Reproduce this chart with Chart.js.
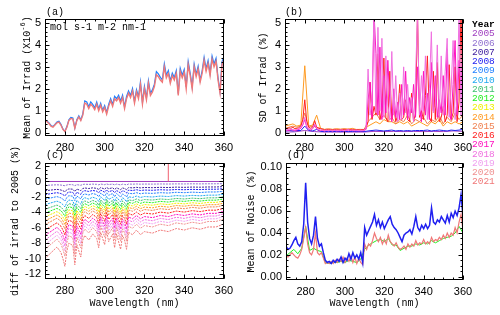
<!DOCTYPE html>
<html>
<head>
<meta charset="utf-8">
<script src="https://cdn.jsdelivr.net/npm/chart.js@4.4.1/dist/chart.umd.min.js"></script>
<style>
  html, body { margin: 0; padding: 0; background: #fff; }
  #wrap { position: relative; width: 500px; height: 315px; overflow: hidden; }
  #wrap canvas { position: absolute; }
  #legend { position: absolute; left: 472px; top: 20px; font: 9.5px "Liberation Mono", monospace; line-height: 9.25px; }
  #legend b { color: #000; }
</style>
</head>
<body>
<div id="wrap">
  <canvas id="cA" width="250" height="157" style="left:0;top:0"></canvas>
  <canvas id="cB" width="250" height="157" style="left:250px;top:0"></canvas>
  <canvas id="cC" width="250" height="170" style="left:0;top:145px"></canvas>
  <canvas id="cD" width="260" height="170" style="left:240px;top:145px"></canvas>
  <div id="legend"></div>
</div>
<script>
// years + colours (legend)
const years = ["2005","2006","2007","2008","2009","2010","2011","2012","2013","2014","2015","2016","2017","2018","2019","2020","2021"];
const yearColors = ["#a040c0","#9070d0","#4020a0","#2020f0","#2080ff","#20a8f0","#40c070","#20f020","#f0f000","#ff9a20","#f08050","#ff2020","#ff10c0","#f070e0","#f0a0f0","#f09090","#f07878"];

// wavelength grids (nm)
const wl1 = [270,271,272,273,274,275,276,277,278,279,
  280,281,282,283,284,285,286,287,288,289,
  290,291,292,293,294,295,296,297,298,299,
  300,301,302,303,304,305,306,307,308,309,
  310,311,312,313,314,315,316,317,318,319,
  320,321,322,323,324,325,326,327,328,329,
  330,331,332,333,334,335,336,337,338,339,
  340,341,342,343,344,345,346,347,348,349,
  350,351,352,353,354,355,356,357,358,359,360];
const wl2 = [270,272,274,276,278,280,282,284,286,288,290,292,294,296,298,300,302,304,306,308,
  310,312,314,316,318,320,322,324,326,328,330,332,334,336,338,340,342,344,346,348,350,352,354,356,358,360];
const wl5 = [270,275,280,285,290,295,300,305,310,315,320,325,330,335,340,345,350,355,360];
const wlC = [270,272,274,276,278,279,280,281,282,284,285,286,288,289,290,292,294,296,297,298,
  300,301,302,304,305,306,308,309,310,311,312,314,316,318,320,324,328,332,336,340,344,348,352,356,360];
const wlEnds = [270, 360];

// (a) mean irradiance, x1e-6 mol s-1 m-2 nm-1
const irrad2009 = [0.58,0.53,0.45,0.33,0.28,0.38,0.49,0.52,0.38,0.17,
  0.06,0.28,0.59,0.70,0.67,0.22,0.59,0.77,0.59,0.86,
  1.45,1.40,1.18,1.40,1.29,1.13,1.40,1.08,1.34,1.02,
  1.24,0.92,1.29,1.55,1.29,1.66,1.55,1.71,1.45,1.71,
  1.18,1.65,1.91,1.70,2.01,1.43,1.96,1.64,2.32,1.38,
  2.11,1.58,2.37,1.79,1.95,2.21,2.78,2.68,2.52,2.41,
  3.14,2.62,2.83,2.36,2.72,2.51,2.83,1.78,2.93,2.62,
  2.88,2.09,3.24,2.72,2.09,3.13,2.66,3.03,2.40,2.82,
  3.44,2.92,3.29,2.71,3.49,3.13,3.39,2.50,1.88,3.23,3.49];
const irrad2021 = [0.55,0.50,0.42,0.30,0.25,0.35,0.45,0.48,0.35,0.15,
  0.05,0.25,0.55,0.65,0.62,0.20,0.55,0.72,0.55,0.80,
  1.35,1.30,1.10,1.30,1.20,1.05,1.30,1.00,1.25,0.95,
  1.15,0.85,1.20,1.45,1.20,1.55,1.45,1.60,1.35,1.60,
  1.10,1.55,1.80,1.60,1.90,1.35,1.85,1.55,2.20,1.30,
  2.00,1.50,2.25,1.70,1.85,2.10,2.65,2.55,2.40,2.30,
  3.00,2.50,2.70,2.25,2.60,2.40,2.70,1.70,2.80,2.50,
  2.75,2.00,3.10,2.60,2.00,3.00,2.55,2.90,2.30,2.70,
  3.30,2.80,3.15,2.60,3.35,3.00,3.25,2.40,1.80,3.10,3.35];

// (b) SD of irradiance (%)
const sd2005 = [0.03,0.04,0.10,0.05,0.03,0.03,0.03,0.03,0.03,0.06,0.05,0.06,0.05,0.06,0.05,0.06,0.05,0.08,0.06];
const sd2008 = [0.08,0.10,0.08,0.10,0.10,0.30,0.10,0.08,0.15,0.06,0.05,0.06,0.05,0.06,0.05,0.06,0.05,0.06,0.05,0.06,
  0.05,0.08,0.10,0.12,0.10,0.08,0.10,0.12,0.08,0.10,0.08,0.10,0.08,0.10,0.10,0.10,0.12,0.08,0.10,0.12,0.10,0.08,0.12,0.10,0.12,0.15];
const sd2014 = [0.30,0.35,0.40,0.30,0.35,3.05,0.30,0.35,0.80,0.20,0.15,0.17,0.15,0.18,0.16,0.18,0.16,0.20,0.15,0.15,
  0.12,0.30,0.40,0.50,0.40,0.60,0.50,0.50,0.40,0.50,0.40,0.50,0.30,0.40,0.50,0.40,0.30,0.50,0.40,0.60,0.30,0.50,0.40,0.50,0.40,0.50];
const sd2015 = [0.20,0.25,0.30,0.25,0.30,0.90,0.25,0.30,0.25,0.20,0.15,0.17,0.15,0.16,0.15,0.17,0.15,0.16,0.14,0.15,
  0.15,0.50,0.70,0.90,0.60,0.80,0.50,0.70,0.40,0.60,0.50,0.80,0.40,0.60,0.50,0.70,0.40,0.60,0.50,0.80,0.40,0.70,0.50,0.90,0.60,0.80];
const sd2016 = [0.20,0.18,0.22,0.20,0.25,0.18,0.20,0.22,0.30,0.60,
  1.50,0.50,0.25,0.20,0.25,0.55,0.25,0.20,0.18,0.15,
  0.12,0.15,0.13,0.14,0.12,0.15,0.13,0.12,0.14,0.13,
  0.15,0.13,0.16,0.14,0.15,0.12,0.14,0.13,0.12,0.13,
  0.15,0.20,0.50,2.30,0.60,1.20,0.80,3.60,0.60,1.00,
  3.40,0.70,0.50,2.80,0.60,1.20,0.50,0.80,2.20,0.60,
  0.70,1.50,0.60,0.50,1.80,0.50,0.90,5.50,0.70,1.00,
  0.60,1.70,3.50,0.70,0.50,2.80,0.60,3.20,0.50,0.70,
  1.20,0.50,0.80,3.10,0.60,0.90,3.00,0.50,1.40,5.50,0.60];
const sd2017 = [0.10,0.12,0.10,0.14,0.12,0.10,0.12,0.15,0.20,0.35,
  0.60,0.25,0.15,0.12,0.18,0.35,0.18,0.12,0.10,0.10,
  0.08,0.10,0.09,0.10,0.08,0.10,0.09,0.08,0.10,0.09,
  0.08,0.10,0.12,0.09,0.11,0.08,0.10,0.08,0.09,0.08,
  0.10,0.15,1.50,2.30,0.70,5.50,3.60,0.80,3.90,0.60,
  2.60,0.90,3.30,1.40,0.50,2.00,0.70,1.40,0.60,2.20,
  0.80,2.80,0.60,1.60,0.90,2.20,0.70,3.00,1.20,0.50,
  2.80,0.80,1.80,0.60,3.20,1.00,2.60,0.70,1.50,0.90,
  2.60,0.80,3.80,0.90,0.60,2.20,4.20,0.80,3.30,2.00,3.80];
const sd2018 = [0.15,0.12,0.15,0.18,0.14,0.12,0.15,0.20,0.25,0.40,
  0.70,0.30,0.18,0.15,0.20,0.40,0.20,0.15,0.12,0.12,
  0.10,0.12,0.10,0.12,0.10,0.12,0.11,0.10,0.13,0.12,
  0.10,0.12,0.14,0.11,0.13,0.10,0.12,0.10,0.11,0.10,
  0.12,0.20,2.90,0.80,1.50,5.50,0.90,4.80,1.00,4.30,
  0.70,3.50,1.20,0.60,3.70,0.80,2.60,0.50,1.80,0.60,
  3.00,0.90,2.20,0.70,1.60,0.50,2.50,5.50,0.80,2.60,
  1.00,3.50,0.60,2.00,4.60,0.90,1.20,4.00,0.70,3.50,
  0.80,2.80,4.30,0.70,2.00,4.20,0.60,1.50,5.50,0.80,5.50];

// (c) difference of irradiance to 2005 (%), on wlC
const diff2005 = [0, 0];
const diff2006 = [-0.50,-0.48,-0.45,-0.43,-0.46,-0.50,-0.55,-0.45,-0.40,-0.42,-0.54,-0.41,-0.49,-0.38,-0.35,-0.38,-0.34,-0.37,-0.43,-0.33,-0.41,-0.32,-0.39,-0.34,-0.43,-0.34,-0.44,-0.35,-0.38,-0.44,-0.33,-0.35,-0.32,-0.35,-0.33,-0.34,-0.32,-0.33,-0.31,-0.32,-0.30,-0.31,-0.30,-0.30,-0.28];
const diff2007 = [-1.20,-1.14,-1.08,-1.02,-1.10,-1.20,-1.32,-1.08,-0.96,-1.00,-1.30,-0.98,-1.18,-0.91,-0.84,-0.91,-0.82,-0.89,-1.03,-0.79,-0.98,-0.77,-0.94,-0.82,-1.03,-0.82,-1.06,-0.84,-0.91,-1.06,-0.79,-0.83,-0.76,-0.83,-0.78,-0.80,-0.76,-0.78,-0.73,-0.76,-0.72,-0.74,-0.71,-0.71,-0.66];
const diff2008 = [-1.70,-1.62,-1.53,-1.45,-1.56,-1.70,-1.87,-1.53,-1.36,-1.41,-1.84,-1.39,-1.67,-1.29,-1.19,-1.29,-1.16,-1.26,-1.46,-1.12,-1.39,-1.09,-1.33,-1.16,-1.46,-1.16,-1.50,-1.19,-1.29,-1.50,-1.12,-1.17,-1.07,-1.17,-1.11,-1.14,-1.07,-1.11,-1.04,-1.07,-1.02,-1.05,-1.00,-1.00,-0.94];
const diff2009 = [-2.30,-2.19,-2.07,-1.96,-2.12,-2.30,-2.53,-2.07,-1.84,-1.91,-2.48,-1.89,-2.25,-1.75,-1.61,-1.75,-1.56,-1.70,-1.98,-1.52,-1.89,-1.47,-1.79,-1.56,-1.98,-1.56,-2.02,-1.61,-1.75,-2.02,-1.52,-1.59,-1.45,-1.59,-1.50,-1.54,-1.45,-1.50,-1.40,-1.45,-1.38,-1.43,-1.36,-1.36,-1.27];
const diff2010 = [-3.00,-2.85,-2.70,-2.55,-2.76,-3.00,-3.30,-2.70,-2.40,-2.49,-3.24,-2.46,-2.94,-2.28,-2.10,-2.28,-2.04,-2.22,-2.58,-1.98,-2.46,-1.92,-2.34,-2.04,-2.58,-2.04,-2.64,-2.10,-2.28,-2.64,-1.98,-2.07,-1.89,-2.07,-1.95,-2.01,-1.89,-1.95,-1.83,-1.89,-1.80,-1.86,-1.77,-1.77,-1.65];
const diff2011 = [-3.60,-3.42,-3.24,-3.06,-3.31,-3.60,-3.96,-3.24,-2.88,-2.99,-3.89,-2.95,-3.53,-2.74,-2.52,-2.74,-2.45,-2.66,-3.10,-2.38,-2.95,-2.30,-2.81,-2.45,-3.10,-2.45,-3.17,-2.52,-2.74,-3.17,-2.38,-2.48,-2.27,-2.48,-2.34,-2.41,-2.27,-2.34,-2.20,-2.27,-2.16,-2.23,-2.12,-2.12,-1.98];
const diff2012 = [-4.10,-3.90,-3.69,-3.49,-3.77,-4.10,-4.51,-3.69,-3.28,-3.40,-4.43,-3.36,-4.02,-3.12,-2.87,-3.12,-2.79,-3.03,-3.53,-2.71,-3.36,-2.62,-3.20,-2.79,-3.53,-2.79,-3.61,-2.87,-3.12,-3.61,-2.71,-2.83,-2.58,-2.83,-2.67,-2.75,-2.58,-2.67,-2.50,-2.58,-2.46,-2.54,-2.42,-2.42,-2.26];
const diff2013 = [-4.60,-4.37,-4.14,-3.91,-4.23,-4.60,-5.06,-4.14,-3.68,-3.82,-4.97,-3.77,-4.51,-3.50,-3.22,-3.50,-3.13,-3.40,-3.96,-3.04,-3.77,-2.94,-3.59,-3.13,-3.96,-3.13,-4.05,-3.22,-3.50,-4.05,-3.04,-3.17,-2.90,-3.17,-2.99,-3.08,-2.90,-2.99,-2.81,-2.90,-2.76,-2.85,-2.71,-2.71,-2.53];
const diff2014 = [-5.10,-4.85,-4.59,-4.34,-4.69,-5.10,-5.61,-4.59,-4.08,-4.23,-5.51,-4.18,-5.00,-3.88,-3.57,-3.88,-3.47,-3.77,-4.39,-3.37,-4.18,-3.26,-3.98,-3.47,-4.39,-3.47,-4.49,-3.57,-3.88,-4.49,-3.37,-3.52,-3.21,-3.52,-3.32,-3.42,-3.21,-3.32,-3.11,-3.21,-3.06,-3.16,-3.01,-3.01,-2.81];
const diff2015 = [-5.60,-5.32,-5.04,-4.76,-5.15,-5.60,-6.16,-5.04,-4.48,-4.65,-6.05,-4.59,-5.49,-4.26,-3.92,-4.26,-3.81,-4.14,-4.82,-3.70,-4.59,-3.58,-4.37,-3.81,-4.82,-3.81,-4.93,-3.92,-4.26,-4.93,-3.70,-3.86,-3.53,-3.86,-3.64,-3.75,-3.53,-3.64,-3.42,-3.53,-3.36,-3.47,-3.30,-3.30,-3.08];
const diff2016 = [-6.30,-5.99,-5.67,-5.36,-5.80,-6.30,-6.93,-5.67,-5.04,-5.23,-6.80,-5.17,-6.17,-4.79,-4.41,-4.79,-4.28,-4.66,-5.42,-4.16,-5.17,-4.03,-4.91,-4.28,-5.42,-4.28,-5.54,-4.41,-4.79,-5.54,-4.16,-4.35,-3.97,-4.35,-4.10,-4.22,-3.97,-4.10,-3.84,-3.97,-3.78,-3.91,-3.72,-3.72,-3.47];
const diff2017 = [-7.00,-6.65,-6.30,-5.95,-6.44,-7.00,-7.70,-6.30,-5.60,-5.81,-7.56,-5.74,-6.86,-5.32,-4.90,-5.32,-4.76,-5.18,-6.02,-4.62,-5.74,-4.48,-5.46,-4.76,-6.02,-4.76,-6.16,-4.90,-5.32,-6.16,-4.62,-4.83,-4.41,-4.83,-4.55,-4.69,-4.41,-4.55,-4.27,-4.41,-4.20,-4.34,-4.13,-4.13,-3.85];
const diff2018 = [-7.60,-7.22,-6.84,-6.46,-6.99,-7.60,-8.36,-6.84,-6.08,-6.31,-8.21,-6.23,-7.45,-5.78,-5.32,-5.78,-5.17,-5.62,-6.54,-5.02,-6.23,-4.86,-5.93,-5.17,-6.54,-5.17,-6.69,-5.32,-5.78,-6.69,-5.02,-5.24,-4.79,-5.24,-4.94,-5.09,-4.79,-4.94,-4.64,-4.79,-4.56,-4.71,-4.48,-4.48,-4.18];
const diff2019 = [-8.20,-7.79,-7.38,-6.97,-7.54,-8.20,-9.02,-7.38,-6.56,-6.81,-8.86,-6.72,-8.04,-6.23,-5.74,-6.23,-5.58,-6.07,-7.05,-5.41,-6.72,-5.25,-6.40,-5.58,-7.05,-5.58,-7.22,-5.74,-6.23,-7.22,-5.41,-5.66,-5.17,-5.66,-5.33,-5.49,-5.17,-5.33,-5.00,-5.17,-4.92,-5.08,-4.84,-4.84,-4.51];
const diff2020 = [-8.80,-8.36,-7.92,-7.48,-8.10,-8.80,-9.68,-7.92,-7.04,-7.30,-9.50,-7.22,-8.62,-6.69,-6.16,-6.69,-5.98,-6.51,-7.57,-5.81,-7.22,-5.63,-6.86,-5.98,-7.57,-5.98,-7.74,-6.16,-6.69,-7.74,-5.81,-6.07,-5.54,-6.07,-5.72,-5.90,-5.54,-5.72,-5.37,-5.54,-5.28,-5.46,-5.19,-5.19,-4.84];
const diff2021 = [-10.0,-9.5,-9.0,-8.5,-9.2,-10.0,-11.0,-9.0,-8.0,-8.3,-10.8,-8.2,-9.8,-7.6,-7.0,-7.6,-6.8,-7.4,-8.6,-6.6,-8.2,-6.4,-7.8,-6.8,-8.6,-6.8,-8.8,-7.0,-7.6,-8.8,-6.6,-6.9,-6.3,-6.9,-6.5,-6.7,-6.3,-6.5,-6.1,-6.3,-6.0,-6.2,-5.9,-5.9,-5.5];
const spikeX = [332, 332];
const spikeY = [0, 2.6];

// (d) mean of noise (%)
const noise2008 = [0.028,0.025,0.026,0.029,0.033,0.036,0.030,0.028,0.032,0.048,
  0.086,0.050,0.035,0.030,0.038,0.055,0.035,0.028,0.030,0.022,
  0.015,0.013,0.014,0.012,0.015,0.013,0.016,0.014,0.018,0.013,
  0.017,0.015,0.021,0.016,0.022,0.017,0.020,0.016,0.022,0.013,
  0.045,0.038,0.042,0.046,0.050,0.057,0.047,0.052,0.045,0.050,
  0.044,0.048,0.052,0.055,0.048,0.045,0.043,0.040,0.036,0.032,
  0.038,0.040,0.041,0.043,0.039,0.046,0.055,0.045,0.042,0.047,
  0.044,0.048,0.044,0.047,0.063,0.050,0.048,0.052,0.050,0.055,
  0.052,0.049,0.056,0.050,0.058,0.054,0.060,0.056,0.063,0.075,0.055];
const noise2012 = [0.019,0.022,0.025,0.021,0.026,0.046,0.024,0.026,0.024,0.023,0.013,0.012,0.013,0.013,0.014,0.013,0.015,0.014,0.013,0.016,
  0.025,0.029,0.031,0.033,0.034,0.032,0.035,0.029,0.029,0.024,0.026,0.028,0.028,0.030,0.029,0.031,0.030,0.033,0.031,0.033,0.035,0.036,0.037,0.040,0.046,0.040];
const noise2021 = [0.020,0.018,0.020,0.022,0.020,0.018,0.017,0.020,0.025,0.035,
  0.045,0.030,0.022,0.020,0.025,0.040,0.022,0.020,0.022,0.017,
  0.012,0.013,0.012,0.014,0.012,0.015,0.013,0.016,0.014,0.018,
  0.013,0.017,0.014,0.019,0.013,0.018,0.012,0.017,0.013,0.011,
  0.030,0.025,0.030,0.028,0.033,0.040,0.035,0.032,0.036,0.030,
  0.034,0.030,0.038,0.032,0.030,0.028,0.031,0.027,0.025,0.026,
  0.028,0.025,0.030,0.027,0.030,0.028,0.033,0.029,0.031,0.030,
  0.034,0.030,0.032,0.030,0.036,0.032,0.034,0.033,0.036,0.034,
  0.038,0.035,0.040,0.036,0.040,0.038,0.045,0.040,0.050,0.057,0.042];

const MONO = '"Liberation Mono", monospace';
const col = y => yearColors[years.indexOf(y)];
const pts = (xs, ys) => xs.map((x, i) => ({ x: x, y: ys[i] }));
const line = (label, xs, ys, color, w, dash) => ({
  label: label, data: pts(xs, ys), borderColor: color, borderWidth: w || 1,
  borderDash: dash || [], pointRadius: 0, tension: 0, fill: false,
});

// box with inward ticks on all four sides + panel texts
const framePlugin = {
  id: "frame",
  afterDraw(chart, args, o) {
    const { ctx, chartArea: a } = chart;
    const xs = chart.scales.x, ys = chart.scales.y;
    const L = Math.round(a.left) + 0.5, R = Math.round(a.right) - 0.5;
    const T = Math.round(a.top) + 0.5, B = Math.round(a.bottom) - 0.5;
    ctx.save();
    ctx.strokeStyle = "#000";
    ctx.lineWidth = 1;
    ctx.strokeRect(L, T, R - L, B - T);
    ctx.beginPath();
    const tickX = (v, len) => {
      const p = Math.round(xs.getPixelForValue(v)) + 0.5;
      ctx.moveTo(p, B); ctx.lineTo(p, B - len);
      ctx.moveTo(p, T); ctx.lineTo(p, T + len);
    };
    const tickY = (v, len) => {
      const p = Math.round(ys.getPixelForValue(v)) + 0.5;
      ctx.moveTo(L, p); ctx.lineTo(L + len, p);
      ctx.moveTo(R, p); ctx.lineTo(R - len, p);
    };
    const minors = (s, step, fn) => {
      for (let k = Math.ceil(s.min / step - 1e-9); k * step <= s.max + 1e-9; k++) fn(k * step, 2);
    };
    minors(xs, o.xMinor, tickX);
    minors(ys, o.yMinor, tickY);
    xs.ticks.forEach(t => tickX(t.value, 4));
    ys.ticks.forEach(t => tickY(t.value, 4));
    ctx.stroke();

    ctx.fillStyle = "#000";
    ctx.font = "10px " + MONO;
    ctx.textBaseline = "middle";
    ctx.textAlign = "left";
    ctx.fillText(o.letter, o.letterX, o.letterY);
    if (o.note) ctx.fillText(o.note, a.left + 5, a.top + 8);
    if (o.xTitle) {
      ctx.textAlign = "center";
      ctx.fillText(o.xTitle, (a.left + a.right) / 2, o.xTitleY);
    }
    // rotated y title, optional superscript
    ctx.translate(o.yTitleX, (a.top + a.bottom) / 2);
    ctx.rotate(-Math.PI / 2);
    ctx.textAlign = "left";
    const w1 = ctx.measureText(o.yTitle).width;
    const w3 = o.yTail ? ctx.measureText(o.yTail).width : 0;
    ctx.font = "7px " + MONO;
    const w2 = o.ySup ? ctx.measureText(o.ySup).width : 0;
    let x0 = -(w1 + w2 + w3) / 2;
    ctx.font = "10px " + MONO;
    ctx.fillText(o.yTitle, x0, 0);
    if (o.ySup) {
      ctx.font = "7px " + MONO;
      ctx.fillText(o.ySup, x0 + w1, -4);
      ctx.font = "10px " + MONO;
      ctx.fillText(o.yTail, x0 + w1 + w2, 0);
    }
    ctx.restore();
  }
};

const tickFont = { family: "Liberation Sans", size: 11 };

function makePanel(id, datasets, p) {
  // later years are drawn on top
  datasets.forEach((d, i) => { d.order = datasets.length - i; });
  return new Chart(document.getElementById(id), {
    type: "line",
    data: { datasets: datasets },
    options: {
      responsive: false,
      animation: false,
      events: [],
      layout: { padding: { left: 0, top: p.top, right: p.right, bottom: 0 } },
      plugins: { legend: { display: false }, tooltip: { enabled: false }, frame: p.frame },
      scales: {
        x: {
          type: "linear", min: 270, max: 360,
          ticks: { stepSize: 20, includeBounds: false, font: tickFont, color: "#000", padding: 5, maxRotation: 0, autoSkip: false },
          grid: { display: false, drawTicks: false }, border: { display: false },
          afterFit: s => { s.height = p.xh; },
        },
        y: {
          type: "linear", min: p.ymin, max: p.ymax,
          ticks: { stepSize: p.ystep, includeBounds: false, font: tickFont, color: "#000", padding: 4, callback: p.yfmt },
          grid: { display: false, drawTicks: false }, border: { display: false },
          afterFit: s => { s.width = p.yw; },
        },
      },
    },
    plugins: [framePlugin],
  });
}

// (a)
makePanel("cA", [
  line("2009", wl1, irrad2009, col("2009"), 1.2),
  line("2021", wl1, irrad2021, col("2021"), 1.4),
], {
  top: 19, right: 26, xh: 21, yw: 45, ymin: -0.15, ymax: 5.18, ystep: 1,
  frame: { xMinor: 5, yMinor: 0.2, letter: "(a)", letterX: 46, letterY: 12, note: "mol s-1 m-2 nm-1",
    yTitle: "Mean of Irrad (X10", ySup: "-6", yTail: ")", yTitleX: 27 },
});

// (b)
makePanel("cB", [
  line("2005", wl5, sd2005, col("2005")),
  line("2008", wl2, sd2008, col("2008")),
  line("2014", wl2, sd2014, col("2014")),
  line("2015", wl2, sd2015, col("2015")),
  line("2016", wl1, sd2016, col("2016")),
  line("2017", wl1, sd2017, col("2017")),
  line("2018", wl1, sd2018, col("2018")),
], {
  top: 19, right: 37, xh: 21, yw: 35, ymin: -0.15, ymax: 5.18, ystep: 1,
  frame: { xMinor: 5, yMinor: 0.2, letter: "(b)", letterX: 35, letterY: 12, yTitle: "SD of Irrad (%)", yTitleX: 13 },
});

// (c)  dotted look of the yearly curves
const diffs = [diff2006, diff2007, diff2008, diff2009, diff2010, diff2011, diff2012, diff2013,
  diff2014, diff2015, diff2016, diff2017, diff2018, diff2019, diff2020, diff2021];
makePanel("cC", [line("2005", wlEnds, diff2005, col("2005"))]
  .concat(diffs.map((d, i) => line(years[i + 1], wlC, d, yearColors[i + 1], 1, [2, 1])))
  .concat([line("2016", spikeX, spikeY, "#f06070")]), {
  top: 18, right: 26, xh: 36, yw: 45, ymin: -12.65, ymax: 2.4, ystep: 2,
  frame: { xMinor: 5, yMinor: 0.5, letter: "(c)", letterX: 46, letterY: 10, xTitle: "Wavelength (nm)", xTitleY: 158,
    yTitle: "diff of irrad to 2005 (%)", yTitleX: 15 },
});

// (d)
makePanel("cD", [
  line("2012", wl2, noise2012, col("2012")),
  line("2021", wl1, noise2021, col("2021"), 1.2),
  line("2008", wl1, noise2008, col("2008"), 1.5),
], {
  top: 18, right: 37, xh: 35, yw: 46, ymin: -0.003, ymax: 0.104, ystep: 0.02, yfmt: v => v.toFixed(2),
  frame: { xMinor: 5, yMinor: 0.005, letter: "(d)", letterX: 47, letterY: 10, xTitle: "Wavelength (nm)", xTitleY: 158,
    yTitle: "Mean of Noise (%)", yTitleX: 11 },
});

// legend column
const lg = document.getElementById("legend");
lg.innerHTML = "<b>Year</b>" + years.map((y, i) => '<div style="color:' + yearColors[i] + '">' + y + "</div>").join("");
</script>
</body>
</html>
